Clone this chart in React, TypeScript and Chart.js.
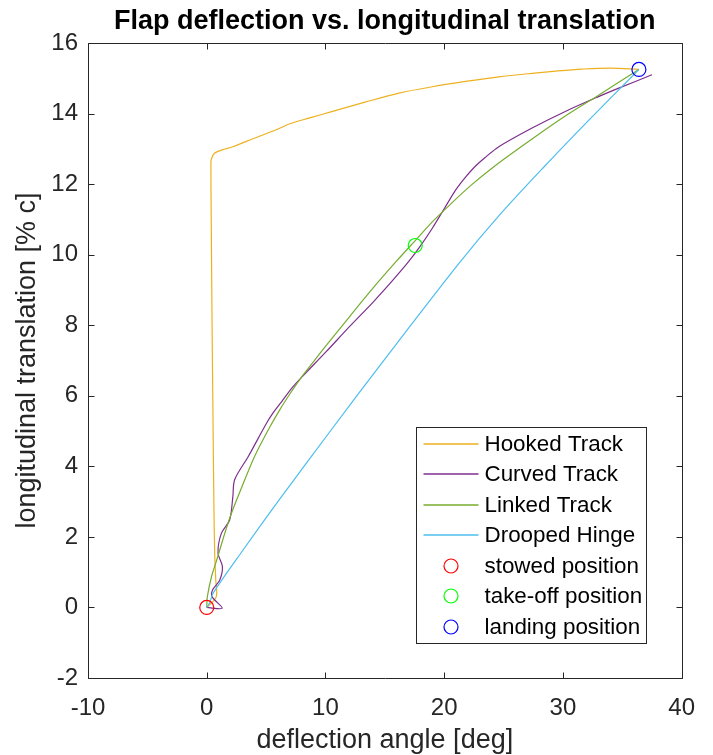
import React, { useEffect, useRef } from 'react';
import { Chart, registerables } from 'chart.js';

Chart.register(...registerables);

// ---------------- data ----------------
const chartTitle = 'Flap deflection vs. longitudinal translation';
const xTicks = [-10, 0, 10, 20, 30, 40];
const yTicks = [-2, 0, 2, 4, 6, 8, 10, 12, 14, 16];

const hookedDeflection = [0, 0.8, 0.76, 0.67, 0.6, 0.53, 0.45, 0.38, 0.35, 0.4, 0.67, 1.3, 2.2, 4.0, 5.85, 7.0, 8.6, 10.6, 13.4, 16.2, 19.0, 21.8, 24.6, 27.4, 29.6, 31.6, 34.0, 36.4];
const hookedTranslation = [0, 0.3, 0.78, 1.54, 3.0, 5.3, 8.0, 11.0, 12.6, 12.72, 12.88, 12.97, 13.06, 13.3, 13.54, 13.71, 13.87, 14.06, 14.33, 14.58, 14.76, 14.91, 15.04, 15.14, 15.21, 15.26, 15.29, 15.25];

const curvedDeflection = [0, 1.3, 0.45, 0.5, 1.1, 1.32, 0.95, 1.23, 1.93, 2.2, 2.35, 3.5, 5.0, 5.6, 6.3, 7.25, 8.09, 10.06, 12.02, 14.0, 15.66, 17.0, 18.0, 19.0, 20.0, 21.0, 21.8, 22.6, 23.4, 24.6, 27.4, 30.2, 33.0, 34.7, 37.5];
const curvedTranslation = [0, -0.02, 0.3, 0.5, 0.78, 1.16, 1.54, 2.1, 2.48, 3.14, 3.62, 4.28, 5.2, 5.52, 5.83, 6.25, 6.56, 7.25, 7.96, 8.65, 9.27, 9.8, 10.25, 10.75, 11.3, 11.85, 12.2, 12.5, 12.74, 13.06, 13.59, 14.06, 14.48, 14.72, 15.1];

const linkedDeflection = [0, 0.05, 0.4, 0.8, 1.9, 3.0, 4.03, 5.29, 6.2, 7.0, 7.82, 9.0, 10.0, 12.02, 14.0, 15.94, 17.56, 19.0, 20.5, 22.2, 24.4, 27.4, 30.2, 33.0, 36.4];
const linkedTranslation = [0, 0.3, 0.87, 1.3, 2.5, 3.45, 4.28, 5.1, 5.63, 6.05, 6.45, 6.97, 7.4, 8.24, 9.05, 9.8, 10.4, 10.93, 11.42, 11.95, 12.55, 13.28, 13.93, 14.52, 15.25];

const droopedDeflection = [0, 0.25, 0.53, 3.0, 6.1, 10.48, 15.0, 21.26, 24.6, 28.3, 32.0, 36.4];
const droopedTranslation = [0, 0.13, 0.4, 1.6, 3.05, 5.03, 7.04, 9.76, 11.1, 12.45, 13.75, 15.25];

const stowedDeflection = [0];
const stowedTranslation = [0];
const takeoffDeflection = [17.56];
const takeoffTranslation = [10.26];
const landingDeflection = [36.4];
const landingTranslation = [15.25];

const lineLabels = ['Hooked Track', 'Curved Track', 'Linked Track', 'Drooped Hinge'];
const markerLabels = ['stowed position', 'take-off position', 'landing position'];

// ---------------- styles ----------------
const FONT = "'Liberation Sans', Arial, Helvetica, sans-serif";
const AXIS_COLOR = '#262626';
const lineColors = ['#EDB120', '#7E2F8E', '#77AC30', '#4DBEEE'];
const markerColors = ['#FF0000', '#00FF00', '#0000FF'];

const zip = (xs: number[], ys: number[]) => xs.map((x, i) => ({ x, y: ys[i] }));

const framePlugin = {
  id: 'matlabFrame',
  afterDatasetsDraw(chart: any) {
    const { ctx, chartArea: a, scales } = chart;
    ctx.save();
    ctx.strokeStyle = AXIS_COLOR;
    ctx.lineWidth = 1;
    ctx.beginPath();
    const L = Math.round(a.left) + 0.5;
    const R = Math.round(a.right) + 0.5;
    const T = Math.round(a.top) + 0.5;
    const B = Math.round(a.bottom) + 0.5;
    ctx.rect(L, T, R - L, B - T);
    const tl = 6;
    scales.x.ticks.forEach((t: any) => {
      const px = Math.round(scales.x.getPixelForValue(t.value)) + 0.5;
      ctx.moveTo(px, B);
      ctx.lineTo(px, B - tl);
      ctx.moveTo(px, T);
      ctx.lineTo(px, T + tl);
    });
    scales.y.ticks.forEach((t: any) => {
      const py = Math.round(scales.y.getPixelForValue(t.value)) + 0.5;
      ctx.moveTo(L, py);
      ctx.lineTo(L + tl, py);
      ctx.moveTo(R, py);
      ctx.lineTo(R - tl, py);
    });
    ctx.stroke();

    // title, centred over the plot area
    ctx.fillStyle = '#000000';
    ctx.font = `bold 27px ${FONT}`;
    ctx.textAlign = 'center';
    ctx.textBaseline = 'middle';
    ctx.fillText(chartTitle, (a.left + a.right) / 2, 22);

    // legend
    const ds = chart.data.datasets;
    const w = 230;
    const h = 216;
    const lx = Math.round(a.right - 36 - w) + 0.5;
    const ly = Math.round(a.bottom - 35 - h) + 0.5;
    ctx.fillStyle = '#ffffff';
    ctx.fillRect(lx, ly, w, h);
    ctx.strokeStyle = AXIS_COLOR;
    ctx.lineWidth = 1;
    ctx.strokeRect(lx, ly, w, h);
    ctx.font = `22.4px ${FONT}`;
    ctx.textBaseline = 'middle';
    ctx.textAlign = 'left';
    ds.forEach((d: any, i: number) => {
      const cy = Math.round(ly + 16 + i * 30.56);
      ctx.strokeStyle = d.borderColor;
      ctx.beginPath();
      if (d.showLine) {
        ctx.lineWidth = 1.5;
        ctx.moveTo(lx + 7, cy);
        ctx.lineTo(lx + 62, cy);
      } else {
        ctx.lineWidth = 1.2;
        ctx.arc(lx + 34.5, cy, 7, 0, Math.PI * 2);
      }
      ctx.stroke();
      ctx.fillStyle = '#000000';
      ctx.fillText(d.label, lx + 68, cy + 1);
    });
    ctx.restore();
  },
};

export default function App() {
  const ref = useRef<HTMLCanvasElement>(null);
  useEffect(() => {
    if (!ref.current) return;
    const lineSeries = [
      zip(hookedDeflection, hookedTranslation),
      zip(curvedDeflection, curvedTranslation),
      zip(linkedDeflection, linkedTranslation),
      zip(droopedDeflection, droopedTranslation),
    ];
    const markerSeries = [
      zip(stowedDeflection, stowedTranslation),
      zip(takeoffDeflection, takeoffTranslation),
      zip(landingDeflection, landingTranslation),
    ];
    const datasets: any[] = [
      ...lineSeries.map((data, i) => ({
        label: lineLabels[i],
        data,
        showLine: true,
        borderColor: lineColors[i],
        backgroundColor: lineColors[i],
        borderWidth: 1.2,
        pointRadius: 0,
        pointHoverRadius: 0,
        tension: 0.3,
        order: 10 - i,
      })),
      ...markerSeries.map((data, i) => ({
        label: markerLabels[i],
        data,
        showLine: false,
        borderColor: markerColors[i],
        backgroundColor: 'rgba(0,0,0,0)',
        borderWidth: 1.2,
        pointRadius: 7,
        pointStyle: 'circle',
        order: 1,
      })),
    ];
    const chart = new Chart(ref.current, {
      type: 'scatter',
      data: { datasets },
      plugins: [framePlugin],
      options: {
        responsive: false,
        animation: false,
        devicePixelRatio: 1,
        layout: { padding: { left: 0, right: 30, top: 43, bottom: 0 } },
        plugins: {
          legend: { display: false },
          tooltip: { enabled: false },
          title: { display: false },
        },
        scales: {
          x: {
            type: 'linear',
            min: xTicks[0],
            max: xTicks[xTicks.length - 1],
            afterBuildTicks: (s: any) => { s.ticks = xTicks.map((v) => ({ value: v })); },
            afterFit: (s: any) => { s.height = 77; },
            grid: { display: false, drawTicks: false },
            border: { display: false },
            ticks: {
              color: AXIS_COLOR,
              font: { family: FONT, size: 24, lineHeight: 1 },
              padding: 18,
              maxRotation: 0,
            },
            title: {
              display: true,
              text: 'deflection angle [deg]',
              color: AXIS_COLOR,
              font: { family: FONT, size: 27, lineHeight: 1 },
              padding: { top: 0, bottom: 1 },
            },
          },
          y: {
            type: 'linear',
            min: yTicks[0],
            max: yTicks[yTicks.length - 1],
            afterBuildTicks: (s: any) => { s.ticks = yTicks.map((v) => ({ value: v })); },
            afterFit: (s: any) => { s.width = 88; },
            grid: { display: false, drawTicks: false },
            border: { display: false },
            ticks: {
              color: AXIS_COLOR,
              font: { family: FONT, size: 24, lineHeight: 1 },
              padding: 10,
            },
            title: {
              display: true,
              text: 'longitudinal translation [% c]',
              color: AXIS_COLOR,
              font: { family: FONT, size: 27, lineHeight: 1 },
              padding: { top: 14, bottom: 0 },
            },
          },
        },
      },
    } as any);
    return () => chart.destroy();
  }, []);
  return (
    <div style={{ position: 'fixed', left: 0, top: 0, width: 713, height: 755, background: '#ffffff' }}>
      <canvas ref={ref} width={713} height={755} />
    </div>
  );
}
